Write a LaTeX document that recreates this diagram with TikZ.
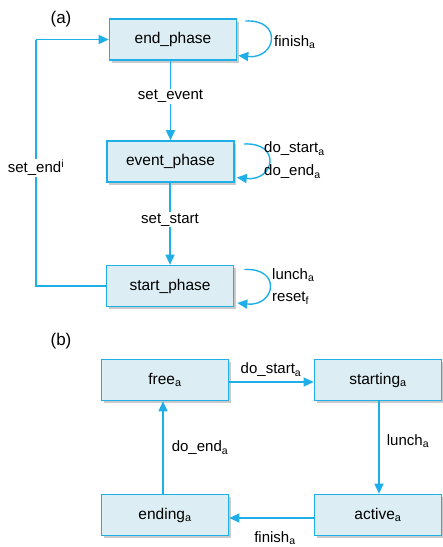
\documentclass[tikz,border=0pt]{standalone}
\usepackage{fontspec}
\setmainfont{Liberation Sans}
\usetikzlibrary{arrows.meta,shadows,calc}
\definecolor{edgec}{HTML}{1EAEE8}
\definecolor{boxfill}{HTML}{DCEDF4}
\newcommand{\sbs}[1]{\textsubscript{#1}}
\begin{document}
\begin{tikzpicture}[x=1pt,y=-1pt,
  state/.style={draw=edgec, line width=1.6pt, fill=boxfill, minimum width=127pt, minimum height=41pt, inner sep=0pt,
    drop shadow={shadow xshift=2pt, shadow yshift=-2.5pt, opacity=0.35, fill=black!60},
    font=\fontsize{15.5}{18}\selectfont},
  conn/.style={draw=edgec, line width=1.4pt, -{Triangle[length=10pt,width=9pt]}},
  plain/.style={draw=edgec, line width=1.4pt},
  lab/.style={font=\fontsize{15}{18}\selectfont, inner sep=1pt},
  panel/.style={font=\fontsize{17}{20}\selectfont}]
\useasboundingbox (0,0) rectangle (443,547);
% panel labels
\node[panel] (pa) at (61,19) {(a)};
\node[panel] (pb) at (61,341) {(b)};
% (a)
\node[state] (endp) at (173,39.5) {end\_phase};
\node[state] (evp) at (170.5,161.5) {event\_phase};
\node[state] (stp) at (170,286) {start\_phase};
\draw[conn] ([xshift=-2.5pt]endp.south) -- node[lab, fill=white, pos=0.45] (lse) {set\_event} (evp.north);
\draw[conn] ([xshift=-0.5pt]evp.south) -- node[lab, fill=white, pos=0.45] (lss) {set\_start} (stp.north);
\coordinate (c1) at (36,286);
\coordinate (c2) at (36,39.5);
\draw[plain] (stp.west) -- (c1) -- node[lab, fill=white, pos=0.48] (lsend) {set\_end\textsuperscript{i}} (c2);
\draw[conn] (c2) -- (endp.west);
% self loops
\draw[conn] ($(endp.east)+(8,-18.5)$) .. controls +(38,-2) and +(38,4) .. ($(endp.east)+(1,16)$);
\node[lab, anchor=west] (lfin) at (273,42) {finish\sbs{a}};
\draw[conn] ($(evp.east)+(9,-17.5)$) .. controls +(38,-2) and +(38,4) .. ($(evp.east)+(2,16)$);
\node[lab, anchor=west] (lds) at (263,149) {do\_start\sbs{a}};
\node[lab, anchor=west] (lde) at (263,172) {do\_end\sbs{a}};
\draw[conn] ($(stp.east)+(10,-16.5)$) .. controls +(38,-2) and +(38,4) .. ($(stp.east)+(3,17)$);
\node[lab, anchor=west] (llu) at (271,275) {lunch\sbs{a}};
\node[lab, anchor=west] (lre) at (271,298) {reset\sbs{f}};
% (b)
\node[state] (free) at (165,380) {free\sbs{a}};
\node[state] (starting) at (378,380) {starting\sbs{a}};
\node[state] (ending) at (165,515) {ending\sbs{a}};
\node[state] (active) at (378,515) {active\sbs{a}};
\draw[conn] ([yshift=-2pt]free.east) -- ([yshift=-2pt]starting.west);
\node[lab] (lb1) at (271,370) {do\_start\sbs{a}};
\draw[conn] ([xshift=1pt]starting.south) -- ([xshift=1pt]active.north);
\node[lab] (lb2) at (408,441) {lunch\sbs{a}};
\draw[conn] ([yshift=-3pt]active.west) -- ([yshift=-3pt]ending.east);
\node[lab] (lb3) at (275,538) {finish\sbs{a}};
\draw[conn] ([xshift=-2pt]ending.north) -- ([xshift=-2pt]free.south);
\node[lab] (lb4) at (200,448) {do\_end\sbs{a}};
\end{tikzpicture}
\end{document}
